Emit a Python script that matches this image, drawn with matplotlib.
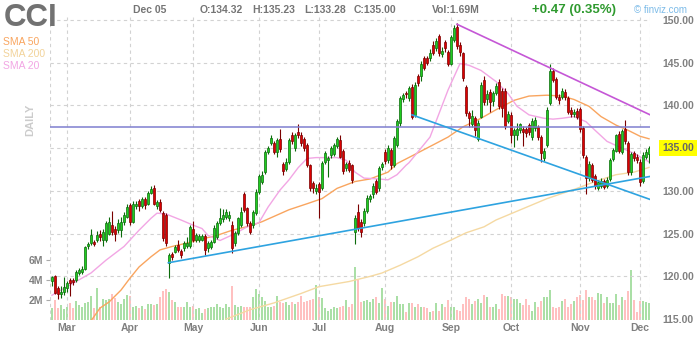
import matplotlib
matplotlib.use('Agg')
import matplotlib.pyplot as plt
import numpy as np

plt.rcParams['font.family'] = ['Liberation Sans', 'DejaVu Sans']

# CCI daily, Feb 22 - Dec 05
ticker = 'CCI'
last_date = 'Dec 05'

opens = [
    119.45, 120.03, 118.7, 117.9, 118.2, 118.6, 119.56, 119.6, 119.56, 120.4,
    120.5, 120.85, 123.5, 123.9, 124.0, 124.3, 125.0, 124.3, 124.3, 125.0,
    126.0, 125.6, 125.4, 125.4, 126.4, 127.0, 128.3, 126.4, 128.2, 128.85,
    128.2, 129.0, 128.5, 129.8, 130.3, 128.2, 128.7, 127.4, 127.2, 121.6,
    122.6, 122.9, 123.67, 123.0, 123.28, 123.5, 123.5, 125.5, 124.25, 124.25,
    124.3, 124.72, 123.28, 123.47, 124.06, 124.64, 126.28, 126.67, 126.98, 126.79,
    126.0, 123.86, 125.03, 126.0, 129.64, 127.96, 126.2, 126.0, 127.37, 129.91,
    131.08, 132.25, 134.59, 135.65, 135.65, 134.59, 136.04, 133.15, 132.6, 133.41,
    136.6, 134.97, 136.85, 136.6, 136.07, 135.36, 133.02, 130.96, 129.98, 130.76,
    130.37, 133.34, 133.6, 134.2, 134.3, 135.3, 135.95, 134.66, 132.63, 133.3,
    133.02, 125.22, 127.56, 126.39, 126.27, 127.64, 129.0, 129.7, 131.15, 130.29,
    132.83, 134.6, 133.6, 134.78, 133.02, 135.36, 137.9, 140.75, 141.4, 140.83,
    142.2, 138.9, 143.4, 143.4, 145.5, 145.5, 145.5, 147.1, 146.7, 148.1,
    146.0, 147.4, 146.2, 144.9, 147.7, 149.2, 147.1, 146.1, 142.2, 139.1,
    137.8, 138.5, 136.1, 138.7, 143.0, 140.8, 141.6, 140.5, 141.5, 142.8,
    141.7, 141.7, 138.2, 138.9, 136.5, 136.6, 137.1, 137.3, 137.2, 137.71,
    136.35, 137.32, 137.44, 136.27, 133.8, 135.37, 140.25, 144.07, 143.06, 141.03,
    141.03, 141.6, 140.83, 139.47, 139.0, 139.39, 139.55, 137.32, 133.93, 131.5,
    133.0, 131.8, 130.4, 130.6, 131.2, 130.6, 131.4, 133.7, 134.7, 136.7,
    134.6, 137.2, 135.6, 132.2, 134.4, 134.0, 133.4, 131.2, 134.0, 134.32,
]
highs = [
    120.1, 120.2, 118.9, 118.9, 119.9, 119.5, 119.8, 119.8, 120.7, 121.0,
    121.2, 123.5, 124.0, 125.6, 124.3, 125.3, 125.4, 125.5, 126.5, 127.0,
    127.6, 125.9, 126.7, 127.0, 127.5, 128.5, 128.6, 128.8, 128.8, 129.1,
    129.3, 129.3, 130.0, 130.6, 130.7, 128.9, 129.0, 127.6, 127.4, 122.7,
    122.8, 123.7, 124.25, 123.2, 124.1, 124.6, 126.0, 126.5, 125.1, 125.0,
    125.0, 125.0, 124.1, 124.3, 126.0, 126.5, 127.96, 127.9, 127.9, 127.6,
    126.5, 125.3, 127.0, 128.1, 129.9, 128.1, 126.5, 127.8, 130.2, 132.0,
    132.3, 134.8, 135.2, 136.6, 135.9, 136.2, 137.2, 133.4, 133.8, 136.2,
    136.9, 136.8, 137.8, 136.9, 136.3, 135.6, 133.2, 131.2, 130.8, 131.0,
    133.5, 134.7, 134.1, 135.2, 135.6, 136.3, 136.6, 134.9, 133.4, 133.6,
    133.2, 127.2, 128.5, 126.7, 128.0, 129.5, 129.6, 130.9, 131.4, 132.9,
    133.4, 134.9, 135.4, 135.0, 136.4, 138.4, 141.1, 141.5, 141.7, 142.3,
    142.5, 142.7, 143.7, 145.2, 145.8, 145.8, 146.6, 147.6, 147.9, 148.4,
    146.8, 147.7, 146.5, 148.3, 149.4, 149.6, 147.4, 146.3, 142.4, 139.4,
    139.5, 138.8, 138.3, 142.8, 143.4, 141.8, 141.9, 141.7, 142.6, 143.1,
    142.0, 142.0, 139.3, 139.2, 137.4, 137.9, 138.0, 137.6, 137.5, 138.0,
    138.5, 138.6, 137.7, 136.5, 135.0, 139.8, 144.9, 144.4, 143.3, 141.3,
    142.0, 141.9, 141.1, 139.8, 139.6, 139.7, 139.8, 137.6, 134.2, 133.5,
    133.3, 132.0, 131.3, 131.5, 131.4, 131.6, 133.8, 135.0, 136.7, 137.0,
    137.3, 138.3, 135.9, 134.6, 134.7, 134.3, 133.7, 134.5, 134.9, 135.23,
]
lows = [
    118.9, 117.9, 117.3, 117.5, 117.8, 118.2, 117.7, 119.0, 119.3, 120.2,
    120.3, 120.7, 123.2, 123.7, 123.5, 124.0, 124.2, 123.6, 124.0, 124.8,
    124.9, 124.2, 125.1, 124.6, 126.0, 126.8, 126.0, 126.2, 127.9, 127.7,
    128.0, 127.9, 128.3, 129.6, 128.3, 127.9, 127.5, 124.2, 123.6, 119.8,
    121.9, 122.7, 122.9, 122.2, 123.0, 123.3, 123.3, 124.0, 124.0, 124.0,
    124.1, 122.5, 122.9, 123.2, 123.9, 124.4, 126.0, 126.4, 126.7, 126.5,
    122.69, 123.5, 124.8, 125.8, 127.5, 125.9, 125.0, 125.7, 127.2, 129.7,
    130.8, 132.0, 134.3, 135.4, 134.3, 134.0, 134.6, 131.9, 132.3, 133.1,
    135.5, 134.7, 136.2, 135.3, 134.7, 132.8, 130.0, 129.8, 129.6, 126.8,
    130.1, 133.1, 131.66, 133.9, 134.1, 135.0, 133.8, 132.0, 132.3, 132.2,
    130.9, 123.74, 125.3, 124.6, 125.9, 127.4, 128.7, 129.2, 129.7, 130.0,
    132.5, 133.2, 133.3, 132.6, 132.8, 135.1, 137.6, 140.4, 140.9, 140.5,
    138.4, 138.6, 142.3, 142.9, 144.2, 144.7, 145.2, 145.9, 146.4, 145.8,
    145.7, 146.3, 144.6, 144.7, 147.4, 146.6, 145.8, 142.9, 138.8, 137.5,
    137.5, 136.4, 135.8, 138.5, 140.0, 140.0, 139.2, 139.9, 141.2, 139.6,
    138.7, 137.2, 137.9, 135.6, 135.1, 136.0, 136.8, 135.3, 136.3, 136.6,
    136.0, 137.0, 136.0, 133.4, 133.5, 135.1, 140.0, 142.7, 140.8, 140.2,
    140.7, 140.6, 139.0, 138.7, 138.7, 138.4, 136.9, 133.9, 129.7, 131.2,
    131.0, 130.2, 130.1, 130.3, 130.2, 130.3, 131.2, 133.5, 134.5, 134.4,
    134.3, 135.5, 131.9, 131.9, 133.5, 133.3, 130.6, 130.9, 133.7, 133.28,
]
closes = [
    119.88, 118.08, 117.9, 118.2, 118.8, 119.25, 119.25, 119.3, 120.54, 120.75,
    120.85, 123.39, 123.78, 124.9, 123.8, 124.9, 124.6, 125.2, 126.3, 126.4,
    125.2, 125.0, 126.2, 126.4, 127.2, 128.1, 126.4, 128.5, 128.5, 128.2,
    129.0, 128.3, 129.8, 130.2, 128.5, 128.7, 127.8, 124.5, 123.9, 122.5,
    122.3, 123.47, 123.08, 122.46, 123.86, 123.86, 125.74, 124.25, 124.84, 124.72,
    124.72, 123.08, 123.86, 124.06, 125.62, 126.28, 126.79, 127.2, 127.57, 127.18,
    123.28, 125.03, 126.79, 127.57, 127.77, 126.2, 125.23, 127.57, 129.91, 131.74,
    131.86, 134.59, 134.98, 136.15, 134.59, 135.96, 134.87, 132.37, 133.42, 135.95,
    135.8, 136.53, 136.53, 135.56, 134.97, 133.02, 130.29, 130.29, 130.37, 129.9,
    133.22, 134.47, 133.9, 134.97, 135.36, 136.07, 134.0, 132.32, 133.1, 132.44,
    131.27, 126.86, 125.61, 125.22, 127.64, 129.12, 129.4, 130.6, 129.9, 132.63,
    133.1, 133.49, 135.05, 133.02, 136.15, 138.17, 140.83, 141.22, 141.3, 142.0,
    138.7, 142.4, 142.6, 144.9, 144.4, 145.0, 146.1, 146.1, 147.6, 146.1,
    146.4, 146.7, 144.9, 148.0, 149.1, 146.9, 146.2, 143.2, 139.1, 138.5,
    138.8, 137.1, 138.0, 142.4, 140.4, 141.3, 140.4, 141.4, 142.3, 139.9,
    139.7, 137.6, 139.0, 136.6, 137.1, 137.2, 137.8, 136.9, 136.8, 136.93,
    138.22, 138.3, 136.27, 134.4, 134.7, 139.47, 144.07, 142.98, 141.03, 140.64,
    141.73, 141.03, 139.27, 139.0, 139.27, 138.69, 137.2, 134.2, 131.47, 133.2,
    131.3, 130.6, 131.0, 131.2, 130.5, 131.3, 133.6, 134.8, 136.5, 134.7,
    137.0, 135.8, 132.2, 134.3, 133.8, 133.6, 131.0, 134.2, 134.53, 135.00,
]
# volume, millions of shares
volumes = [
    1.17, 2.0, 1.17, 1.5, 1.07, 1.27, 1.67, 1.17, 1.9, 1.5,
    1.27, 1.67, 1.83, 2.4, 1.17, 3.17, 1.27, 2.07, 2.0, 2.1,
    2.6, 2.17, 1.83, 1.6, 2.07, 2.5, 2.4, 1.27, 1.4, 1.17,
    1.4, 1.07, 1.6, 1.6, 1.5, 1.6, 2.33, 2.93, 3.13, 2.83,
    2.0, 1.83, 1.27, 1.33, 1.27, 1.83, 1.27, 1.4, 1.07, 1.17,
    0.73, 1.07, 1.17, 1.27, 1.27, 1.6, 1.27, 1.17, 1.6, 1.27,
    3.4, 1.47, 1.33, 1.4, 1.27, 1.27, 1.27, 2.33, 3.07, 2.6,
    2.27, 1.93, 1.27, 1.27, 1.4, 2.4, 1.83, 1.67, 1.83, 1.47,
    1.83, 1.6, 1.83, 2.4, 1.83, 1.9, 2.0, 2.07, 3.5, 2.27,
    2.17, 1.17, 0.93, 1.07, 1.27, 1.17, 1.27, 1.4, 2.0, 1.27,
    1.6, 5.33, 4.0, 1.83, 1.93, 2.0, 1.83, 2.1, 2.27, 1.73,
    3.2, 2.07, 1.4, 1.83, 1.83, 2.4, 1.6, 1.6, 0.83, 1.73,
    1.67, 1.27, 1.6, 1.27, 1.27, 1.17, 0.83, 0.93, 1.67, 0.93,
    1.6, 1.27, 2.0, 1.27, 1.27, 1.0, 0.93, 1.6, 2.27, 2.07,
    1.6, 1.93, 2.13, 1.73, 2.5, 2.33, 1.27, 1.27, 1.6, 1.07,
    2.6, 2.4, 2.4, 2.27, 2.1, 2.1, 1.67, 1.5, 2.1, 1.5,
    0.93, 1.83, 1.27, 1.93, 2.33, 2.27, 3.0, 1.33, 1.17, 1.27,
    1.93, 2.07, 1.27, 1.6, 1.9, 2.27, 2.5, 2.0, 3.0, 2.27,
    2.33, 2.0, 2.73, 2.6, 1.73, 2.27, 1.73, 1.73, 2.6, 1.5,
    2.33, 2.0, 2.93, 5.0, 2.0, 0.83, 1.93, 1.93, 1.83, 1.69,
]

# moving averages (bar index, value)
sma20_idx = [0, 7, 13, 18, 24, 29, 33, 35, 38, 43, 47, 50, 52, 54, 56, 61, 65, 69, 72, 76,
             79, 82, 85, 88, 95, 98, 101, 104, 109, 112, 115, 118, 119, 126, 132, 136, 139, 143,
             148, 152, 155, 159, 164, 167, 170, 174, 178, 181, 185, 190, 194, 199]
sma20_val = [117.8, 119.2, 120.4, 121.9, 123.5, 125.4, 126.8, 127.4, 127.3, 126.6, 126.0, 125.6,
             124.8, 124.5, 124.2, 125.0, 125.8, 126.3, 128.1, 130.1, 131.3, 132.7, 133.8, 133.9,
             133.9, 133.6, 132.2, 131.5, 131.4, 131.3, 131.9, 133.0, 133.3, 136.3, 141.8, 144.9,
             144.7, 144.1, 142.8, 141.4, 139.9, 138.9, 138.5, 138.4, 138.5, 138.7, 138.1, 137.1,
             135.8, 135.0, 134.4, 133.4]
sma50_idx = [13, 16, 19, 23, 26, 29, 33, 36, 40, 45, 49, 55, 60, 66, 70, 79, 85, 90, 95, 101,
             106, 112, 115, 120, 126, 132, 137, 143, 148, 154, 159, 165, 170, 174, 179, 183, 188,
             192, 196, 199]
sma50_val = [114.8, 116.3, 117.0, 118.4, 119.8, 121.1, 122.3, 123.1, 123.5, 123.9, 124.3, 124.8,
             125.4, 125.9, 126.4, 127.8, 128.5, 129.1, 130.3, 131.1, 131.4, 132.2, 133.2, 134.1,
             135.2, 136.3, 137.5, 138.5, 139.5, 140.6, 141.1, 141.2, 141.1, 140.7, 139.9, 138.7,
             137.7, 137.1, 136.4, 136.1]
sma200_idx = [58, 66, 74, 83, 89, 99, 106, 110, 116, 122, 127, 133, 138, 144, 148, 165, 175,
              181, 188, 194, 199]
sma200_val = [115.0, 116.1, 116.9, 118.0, 118.8, 119.4, 120.0, 120.4, 121.3, 122.3, 123.3, 124.25,
              125.1, 125.8, 126.6, 129.1, 130.3, 131.1, 131.9, 132.2, 132.75]

# trendlines (bar index, price)
resist_idx, resist_val = [135, 199.4], [149.5, 138.9]
support_idx, support_val = [38.8, 199.4], [121.6, 131.7]
channel_idx, channel_val = [120, 199.4], [138.9, 129.0]
hline_level = 137.45

month_labels = ['Mar', 'Apr', 'May', 'Jun', 'Jul', 'Aug', 'Sep', 'Oct', 'Nov', 'Dec']
month_idx = [5, 26, 47, 69, 89, 111, 133, 153, 176, 196]
price_ticks = [115, 120, 125, 130, 140, 145, 150]
grid_levels = [120, 125, 130, 135, 140, 145, 150]
vol_ticks = [2, 4, 6]

o = np.array(opens)
h = np.array(highs)
l = np.array(lows)
c = np.array(closes)
v = np.array(volumes)
n = len(c)
idx = np.arange(n)
up = c >= o

W, H = 700, 340
rect = [50 / W, 20 / H, 600 / W, 303 / H]
fig = plt.figure(figsize=(7, 3.4), dpi=100)
axv = fig.add_axes(rect)
ax = fig.add_axes(rect, sharex=axv)
ax.patch.set_visible(False)

grey = '#808080'

# volume
axv.bar(idx, v, width=0.9, color=np.where(up, '#aadfa6', '#ffc0c0'), linewidth=0)
axv.set_ylim(0, 30.3)
axv.set_yticks(vol_ticks)
axv.set_yticklabels([f'{t}M' for t in vol_ticks])
axv.tick_params(axis='y', length=3, color='#aaaaaa', pad=2, labelsize=7.5, labelcolor=grey)
for t in axv.get_yticklabels():
    t.set_fontweight('bold')
axv.tick_params(axis='x', bottom=False, labelbottom=False)

ax.set_xlim(-0.67, 199.33)
ax.set_ylim(114.9, 150.35)

# grid
for g in grid_levels:
    ax.axhline(g, color='#d2d2d2', lw=0.8, ls=(0, (3, 3)), zorder=0.5)
for m in month_idx + [-0.6, 199.3]:
    ax.axvline(m, color='#d2d2d2', lw=0.8, ls=(0, (3, 3)), zorder=0.5)

# moving averages
ax.plot(sma200_idx, sma200_val, color='#f5d9a2', lw=1.0, zorder=2)
ax.plot(sma50_idx, sma50_val, color='#f9a55f', lw=1.0, zorder=2)
ax.plot(sma20_idx, sma20_val, color='#f2a6e4', lw=1.0, zorder=2)

# candles
edge = np.where(up, '#0b6b0b', '#7a0000')
ax.vlines(idx, l, h, colors=edge, lw=0.8, zorder=3)
body = np.maximum(np.abs(c - o), 0.08)
ax.bar(idx, body, bottom=np.minimum(o, c), width=0.72,
       color=np.where(up, '#1fcc1f', '#dd0000'), edgecolor=edge, linewidth=0.5, zorder=4)

# trendlines
ax.axhline(hline_level, color='#7f7fcf', lw=1.1, zorder=5)
ax.plot(resist_idx, resist_val, color='#c557d6', lw=1.2, zorder=5)
ax.plot(support_idx, support_val, color='#2ea3e0', lw=1.2, zorder=5)
ax.plot(channel_idx, channel_val, color='#2ea3e0', lw=1.2, zorder=5)

# axes labels
ax.yaxis.tick_right()
ax.set_yticks(price_ticks)
ax.set_yticklabels([f'{t:.2f}' for t in price_ticks])
ax.tick_params(axis='y', length=0, pad=9, labelsize=7.5, labelcolor=grey)
ax.set_xticks(month_idx)
ax.set_xticklabels(month_labels)
ax.tick_params(axis='x', length=0, pad=2, labelsize=7.5, labelcolor=grey)
for t in ax.get_xticklabels() + ax.get_yticklabels():
    t.set_fontweight('bold')
for a in (ax, axv):
    for s in a.spines.values():
        s.set_visible(False)

ax.text((662 - 50) / 600, c[-1], f'{c[-1]:.2f}', transform=ax.get_yaxis_transform(),
        ha='left', va='center', fontsize=7.5, fontweight='bold', color='#666666',
        bbox=dict(boxstyle='square,pad=0.3', fc='#ffff00', ec='none'), clip_on=False)

# header
def px(x, y):
    return x / W, 1 - y / H

fig.text(*px(4, 18), ticker, fontsize=22.5, fontweight='bold', color='#727272', va='center')
fig.text(*px(3, 42), 'SMA 50', fontsize=7.5, color='#f9a55f', va='center')
fig.text(*px(3, 54), 'SMA 200', fontsize=7.5, color='#f2d39a', va='center')
fig.text(*px(3, 66), 'SMA 20', fontsize=7.5, color='#f2a6e4', va='center')
fig.text(*px(30, 120), 'DAILY', fontsize=8, fontweight='bold', color='#cccccc',
         rotation=90, ha='center', va='center')

hdr = dict(fontsize=7.5, fontweight='bold', color='#757575', va='center')
fig.text(*px(133, 10), last_date, **hdr)
fig.text(*px(200, 10), f'O:{o[-1]:.2f}', **hdr)
fig.text(*px(252, 10), f'H:{h[-1]:.2f}', **hdr)
fig.text(*px(304, 10), f'L:{l[-1]:.2f}', **hdr)
fig.text(*px(354, 10), f'C:{c[-1]:.2f}', **hdr)
fig.text(*px(432, 10), f'Vol:{v[-1]:.2f}M', **hdr)
chg = c[-1] - c[-2]
fig.text(*px(532, 10), f'{chg:+.2f} ({chg / c[-2] * 100:.2f}%)', fontsize=9.5,
         fontweight='bold', color='#2f9a2f', va='center')
fig.text(*px(634, 10), '\u00a9 finviz.com', fontsize=7, color='#7cbbe8', va='center')

fig.savefig('out.png', dpi=100)
